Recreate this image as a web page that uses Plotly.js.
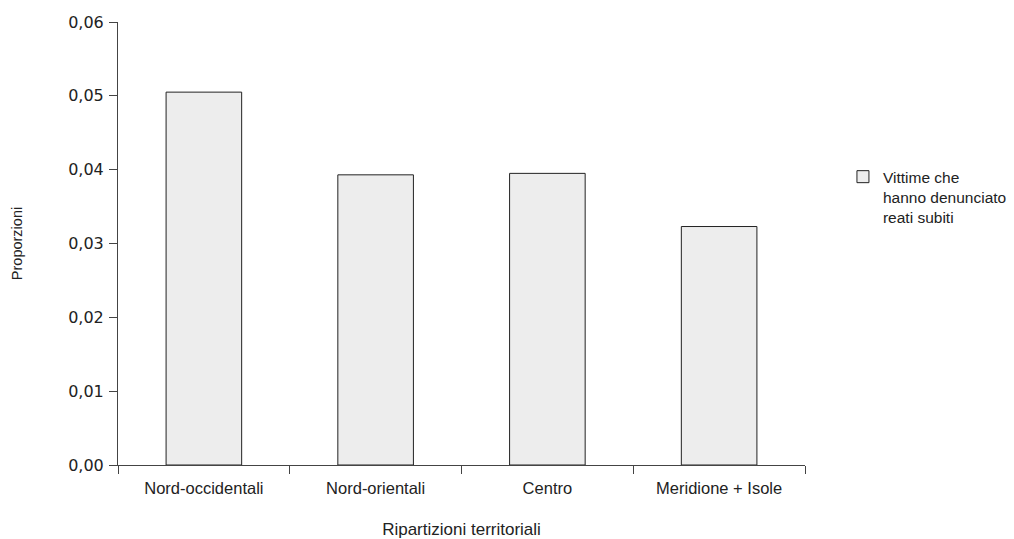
<!DOCTYPE html>
<html><head><meta charset="utf-8">
<script src="https://cdn.plot.ly/plotly-3.0.1.min.js"></script>
<style>html,body{margin:0;padding:0;background:#fff}</style>
</head><body>
<div id="chart" style="width:1014px;height:539px"></div>
<script>
const categories = ["Nord-occidentali", "Nord-orientali", "Centro", "Meridione + Isole"];
const values = [0.0505, 0.0393, 0.0395, 0.0323];
const seriesName = "Vittime che<br>hanno denunciato<br>reati subiti";
const yTicks = [0, 0.01, 0.02, 0.03, 0.04, 0.05, 0.06];

const sans = "Liberation Sans, Arial, sans-serif";
const trace = {
  type: "bar",
  x: categories,
  y: values,
  name: seriesName,
  width: 0.44,
  marker: {color: "#ededed", line: {color: "#222", width: 1}},
  showlegend: true
};
const layout = {
  width: 1014, height: 539,
  margin: {l: 118, r: 209, t: 22, b: 74},
  paper_bgcolor: "#fff", plot_bgcolor: "#fff",
  separators: ",.",
  font: {family: sans, size: 16, color: "#222"},
  showlegend: true,
  legend: {xref: "container", yref: "container", x: 0.8313, y: 0.703, xanchor: "left", yanchor: "top", valign: "top",
           font: {family: sans, size: 15.5}, bgcolor: "rgba(0,0,0,0)", tracegroupgap: 0},
  xaxis: {
    showline: true, linecolor: "#444", linewidth: 1,
    ticks: "outside", ticklen: 8, tickcolor: "#444", tickson: "boundaries",
    ticklabelstandoff: 8,
    tickfont: {family: sans, size: 16.5},
    showgrid: false, zeroline: false, automargin: false,
    title: {text: "Ripartizioni territoriali", standoff: 27, font: {family: sans, size: 17}}
  },
  yaxis: {
    range: [0, 0.06], tickvals: yTicks, tickformat: ".2f",
    showline: true, linecolor: "#444", linewidth: 1,
    ticks: "outside", ticklen: 8, tickcolor: "#444", ticklabelstandoff: 2,
    tickfont: {family: "DejaVu Sans, sans-serif", size: 16},
    showgrid: false, zeroline: false, automargin: false,
    title: {text: "Proporzioni", standoff: 42, font: {family: sans, size: 14.5}}
  }
};
Plotly.newPlot("chart", [trace], layout, {displayModeBar: false, staticPlot: true});
</script>
</body></html>
